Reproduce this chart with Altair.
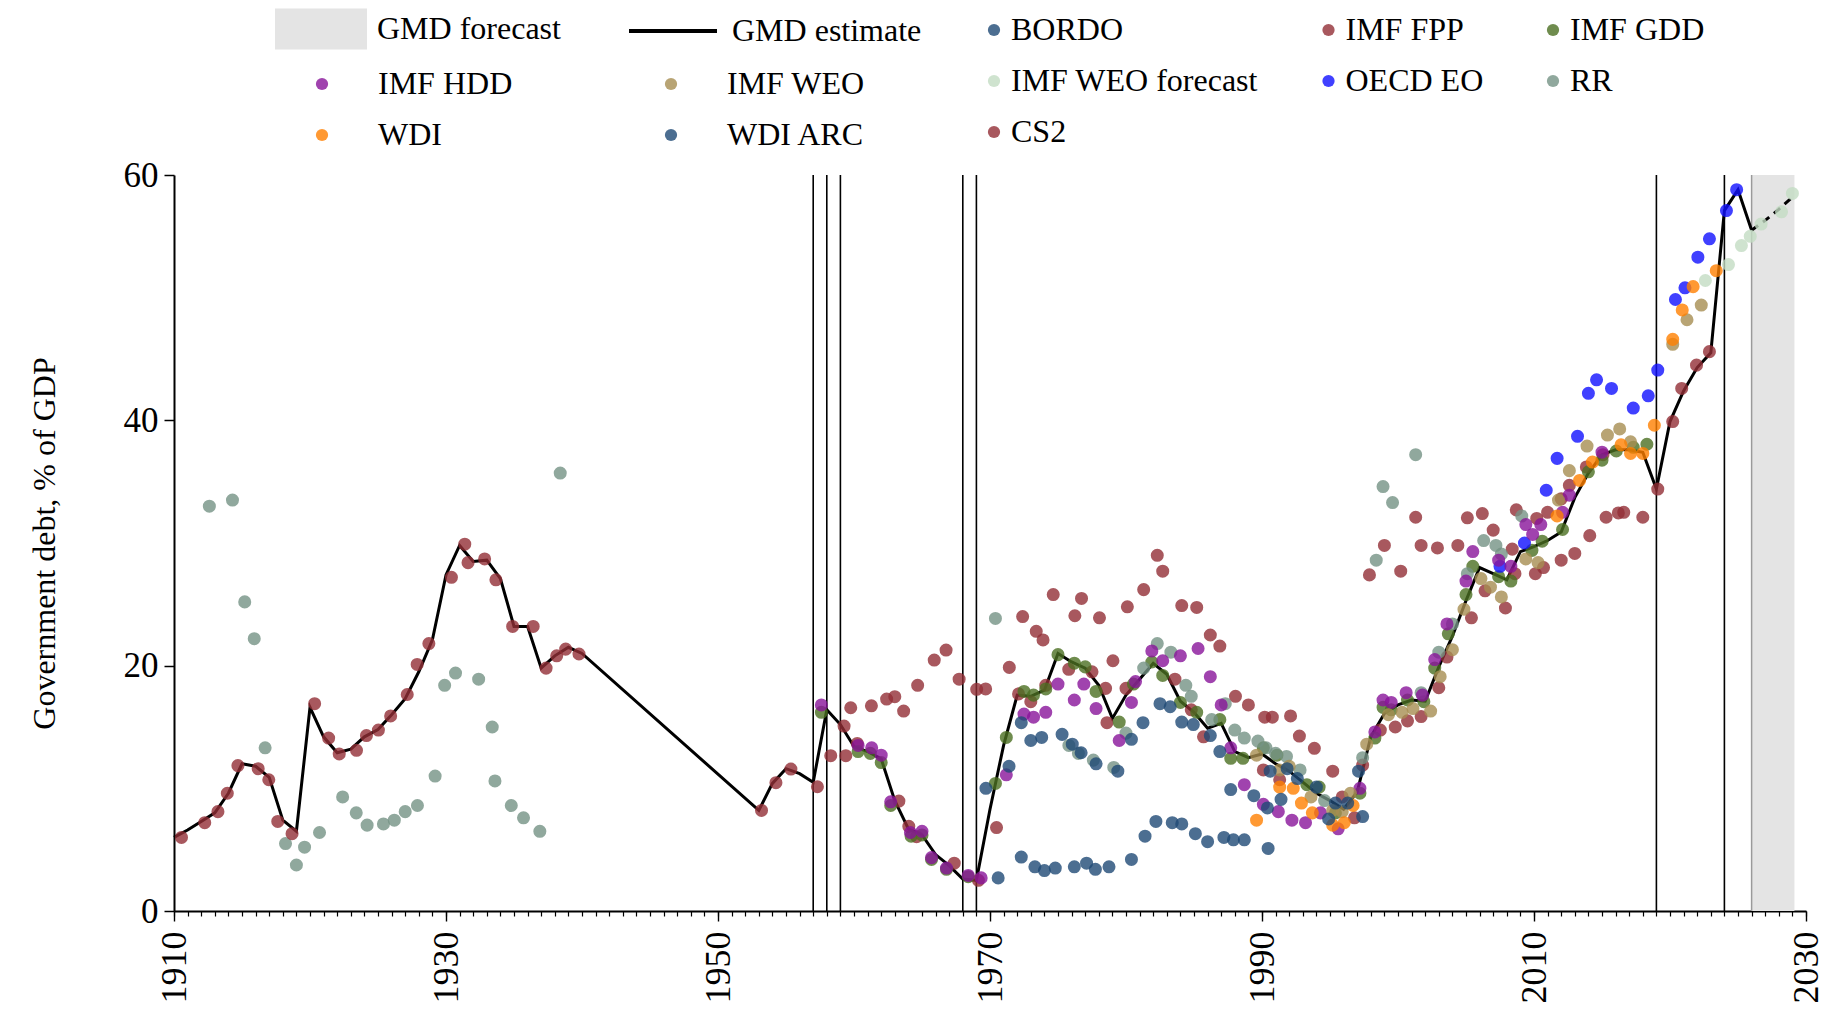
import altair as alt
import pandas as pd

# ---------------- data ----------------
GMD_YEARS = list(range(1910, 1941)) + list(range(1953, 2027))
GMD_VALUES = [
    6.0, 6.6, 7.3, 8.0, 9.6, 12.0, 11.8, 10.9, 7.4, 6.5,           # 1910-1919
    16.6, 14.2, 12.9, 13.2, 14.2, 14.8, 16.0, 17.3, 19.5, 22.1,    # 1920-1929
    27.4, 29.8, 28.5, 28.6, 27.1, 23.2, 23.2, 19.8, 20.8, 21.5,    # 1930-1939
    21.0,                                                           # 1940
    8.2, 10.4, 11.6, 11.2, 10.5, 16.4, 15.2,                        # 1953-1959
    13.4, 13.0, 12.4, 9.0, 6.7, 6.2, 4.6, 3.7, 2.6, 2.5,           # 1960-1969
    8.3, 13.5, 17.6, 17.5, 18.0, 21.0, 20.3, 19.8, 18.4, 15.7,     # 1970-1979
    17.6, 18.9, 20.2, 19.3, 17.1, 16.2, 14.9, 15.3, 13.0, 12.5,    # 1980-1989
    12.8, 12.0, 11.4, 10.5, 9.6, 9.0, 8.3, 9.7, 14.2, 16.1,        # 1990-1999
    16.8, 17.2, 17.1, 19.9, 22.4, 25.3, 28.0, 27.5, 27.0, 29.3,    # 2000-2009
    29.7, 30.2, 30.9, 33.7, 35.7, 37.2, 37.6, 37.6, 37.4, 34.4,    # 2010-2019
    39.9, 42.4, 44.3, 45.5, 57.1, 58.8, 55.5,                      # 2020-2026
]
FC_YEARS = [2026, 2027, 2028, 2029]
FC_VALUES = [55.5, 56.3, 57.2, 58.2]
BREAK_YEARS = [1957, 1958, 1959, 1968, 1969, 2019, 2024]
FORECAST_START = 2026
FORECAST_END = 2029.15
X_MAJOR = list(range(1910, 2031, 20))
X_MINOR = list(range(1910, 2031))
Y_TICKS = [0, 20, 40, 60]

BORDO = [(1970.6, 2.7), (1972.3, 4.4), (1973.3, 3.6), (1974.0, 3.3), (1974.8, 3.5),
         (1976.2, 3.6), (1977.1, 3.9), (1977.75, 3.4), (1978.75, 3.6), (1980.4, 4.2),
         (1981.4, 6.1), (1982.2, 7.3), (1983.4, 7.2), (1984.1, 7.1), (1985.1, 6.3),
         (1986.0, 5.65), (1987.2, 6.0), (1987.9, 5.8), (1988.7, 5.8), (1990.45, 5.1)]

WDI_ARC = [(1969.7, 10.0), (1971.4, 11.8), (1972.3, 15.35), (1973.0, 13.9), (1973.8, 14.15),
           (1975.3, 14.4), (1976.05, 13.6), (1976.7, 12.9), (1977.8, 12.0), (1979.4, 11.4),
           (1980.4, 14.0), (1981.25, 15.35), (1982.5, 16.9), (1983.25, 16.65), (1984.1, 15.4),
           (1984.95, 15.2), (1986.2, 14.3), (1986.9, 13.0), (1987.7, 9.9), (1989.4, 9.4),
           (1990.4, 8.4), (1990.6, 11.4), (1991.4, 9.1), (1991.85, 11.6), (1992.6, 10.8),
           (1994.0, 10.1), (1994.9, 7.5), (1995.4, 8.8), (1996.3, 8.8), (1997.1, 11.4),
           (1997.4, 7.7)]

RR = [(1912.6, 33.0), (1914.3, 33.5), (1915.2, 25.2), (1915.9, 22.2), (1916.7, 13.3),
      (1918.2, 5.5), (1919.0, 3.75), (1919.6, 5.2), (1920.7, 6.4), (1922.4, 9.3),
      (1923.4, 8.0), (1924.2, 7.0), (1925.4, 7.1), (1926.2, 7.4), (1927.0, 8.1),
      (1927.9, 8.6), (1929.2, 11.0), (1929.9, 18.4), (1930.7, 19.4), (1932.4, 18.9),
      (1933.4, 15.0), (1933.6, 10.6), (1934.8, 8.6), (1935.7, 7.6), (1936.9, 6.5),
      (1938.4, 35.7), (1970.4, 23.85), (1975.8, 13.5), (1976.5, 12.85), (1977.6, 12.3),
      (1979.1, 11.7), (1980.0, 14.5), (1981.3, 19.8), (1982.3, 21.8), (1983.3, 21.1),
      (1984.4, 18.4), (1984.8, 17.5), (1986.3, 15.6), (1987.3, 16.9), (1988.0, 14.75),
      (1988.7, 14.1), (1989.7, 13.85), (1990.3, 13.3), (1991.0, 12.85), (1991.8, 12.6),
      (1992.8, 11.5), (1994.6, 9.0), (1997.4, 12.5), (1998.4, 28.6), (1998.9, 34.6),
      (1999.6, 33.3), (2001.3, 37.2), (2001.7, 17.8), (2003.0, 21.1), (2004.0, 23.4),
      (2005.1, 27.5), (2006.3, 30.2), (2007.2, 29.8), (2007.6, 29.1), (2009.1, 32.2)]

IMF_HDD = [(1957.6, 16.8), (1960.3, 13.5), (1961.3, 13.3), (1962.0, 12.7), (1962.7, 8.9),
           (1964.15, 6.4), (1965.0, 6.5), (1965.7, 4.35), (1966.8, 3.5), (1968.4, 2.9),
           (1969.35, 2.7), (1971.2, 11.1), (1972.5, 16.05), (1973.2, 15.8), (1974.1, 16.2),
           (1975.0, 18.5), (1976.2, 17.2), (1976.9, 18.5), (1977.8, 16.5), (1979.5, 13.9),
           (1980.4, 17.0), (1980.7, 18.7), (1981.9, 21.2), (1982.7, 20.4), (1984.0, 20.8),
           (1985.3, 21.4), (1986.2, 19.1), (1987.0, 16.8), (1987.7, 13.3), (1988.7, 10.3),
           (1990.1, 8.7), (1991.2, 8.1), (1992.2, 7.4), (1993.2, 7.2), (1994.3, 8.0),
           (1995.6, 6.7), (1997.2, 10.0), (1998.3, 14.6), (1998.9, 17.2), (1999.5, 17.0),
           (2000.6, 17.8), (2001.8, 17.6), (2002.7, 20.5), (2003.6, 23.4), (2005.0, 26.9),
           (2005.5, 29.3), (2007.4, 28.6), (2008.3, 28.1), (2009.4, 31.5), (2009.9, 30.7),
           (2010.5, 31.5), (2012.1, 32.5), (2012.6, 33.9), (2015.0, 37.4)]

IMF_GDD = [(1957.6, 16.2), (1960.3, 13.0), (1961.2, 12.85), (1962.0, 12.1), (1962.7, 8.6),
           (1964.2, 6.1), (1965.0, 6.2), (1965.7, 4.2), (1966.8, 3.4), (1968.4, 2.8),
           (1970.4, 10.4), (1971.2, 14.15), (1972.5, 17.9), (1973.2, 17.6), (1974.1, 18.1),
           (1975.0, 20.9), (1976.2, 20.2), (1977.0, 19.9), (1977.8, 17.9), (1979.5, 15.4),
           (1980.55, 18.5), (1981.9, 20.3), (1982.7, 19.2), (1984.0, 17.0), (1985.2, 16.2),
           (1986.9, 15.6), (1987.7, 12.45), (1988.6, 12.45), (1990.1, 13.3), (1991.1, 12.7),
           (1993.3, 10.3), (1994.2, 10.1), (1995.4, 8.0), (1997.2, 9.6), (1998.3, 14.1),
           (1998.9, 16.6), (1999.5, 16.4), (2000.7, 17.2), (2001.9, 17.06), (2002.7, 19.8),
           (2003.7, 22.6), (2005.0, 25.8), (2005.5, 28.1), (2007.4, 27.25), (2008.3, 26.9),
           (2009.85, 29.4), (2010.6, 30.15), (2012.1, 31.1), (2014.0, 35.8), (2015.0, 36.75),
           (2016.05, 37.5), (2017.3, 37.8), (2018.3, 38.05)]

IMF_WEO = [(1989.6, 12.7), (1991.3, 11.5), (1992.0, 11.8), (1993.6, 9.3), (1995.2, 8.2),
           (1995.9, 8.1), (1996.5, 9.6), (1997.7, 13.6), (1999.3, 16.0), (2000.3, 16.2),
           (2001.1, 16.5), (2002.4, 16.3), (2003.1, 19.1), (2004.0, 21.3), (2004.85, 24.6),
           (2006.1, 27.1), (2006.8, 26.4), (2007.6, 25.6), (2009.4, 28.7), (2010.3, 28.4),
           (2011.8, 33.5), (2012.6, 35.9), (2013.9, 37.9), (2015.4, 38.8), (2016.3, 39.3),
           (2017.1, 38.25), (2020.2, 46.2), (2021.25, 48.2), (2022.3, 49.4)]

WDI = [(1989.6, 7.4), (1991.3, 10.1), (1992.3, 10.0), (1992.9, 8.8), (1993.7, 8.0),
       (1995.2, 7.0), (1996.05, 7.2), (1996.7, 8.6), (2011.7, 32.2), (2013.35, 35.1),
       (2014.3, 36.6), (2016.4, 38.0), (2017.1, 37.3), (2018.0, 37.3), (2018.85, 39.6),
       (2020.2, 46.6), (2020.9, 49.0), (2021.7, 50.9), (2023.4, 52.2)]

OECD_EO = [(2007.5, 28.1), (2009.3, 30.0), (2010.9, 34.3), (2011.7, 36.9), (2013.2, 38.7),
           (2014.0, 42.2), (2014.6, 43.3), (2015.7, 42.6), (2017.3, 41.0), (2018.4, 42.0),
           (2019.1, 44.1), (2020.4, 49.85), (2021.1, 50.8), (2022.05, 53.3), (2022.9, 54.8),
           (2024.15, 57.1), (2024.9, 58.8)]

IMF_WEO_FC = [(2022.6, 51.4), (2024.3, 52.7), (2025.25, 54.25), (2025.9, 55.0),
              (2026.7, 56.0), (2028.2, 57.0), (2029.0, 58.5)]

CS2 = [(1910.55, 6.0), (1912.26, 7.2), (1913.23, 8.1), (1913.92, 9.6), (1914.7, 11.85),
       (1916.19, 11.6), (1916.97, 10.7), (1917.63, 7.3), (1918.68, 6.3), (1920.34, 16.9),
       (1921.37, 14.1), (1922.15, 12.8), (1923.42, 13.1), (1924.15, 14.3), (1925.03, 14.75),
       (1925.93, 15.9), (1927.15, 17.65), (1927.88, 20.1), (1928.74, 21.8), (1930.4, 27.2),
       (1931.38, 29.9), (1931.62, 28.4), (1932.84, 28.7), (1933.67, 27.0), (1934.9, 23.2),
       (1936.41, 23.2), (1937.36, 19.8), (1938.14, 20.8), (1938.8, 21.35), (1939.78, 20.95),
       (1953.2, 8.2), (1954.26, 10.46), (1955.36, 11.57), (1957.31, 10.13), (1958.29, 12.66),
       (1959.4, 12.66), (1959.27, 15.08), (2019.1, 34.4), (2020.2, 39.9), (2020.86, 42.6),
       (2021.95, 44.5), (2022.9, 45.6)]

IMF_FPP = [(1959.76, 16.57), (1961.28, 16.73), (1962.4, 17.28), (1963.0, 17.47), (1963.65, 16.3),
           (1964.68, 18.4), (1965.9, 20.46), (1966.77, 21.27), (1967.73, 18.9), (1969.02, 18.07),
           (1969.68, 18.1), (1970.48, 6.8), (1960.24, 13.66), (1963.3, 8.96), (1964.03, 6.9),
           (1964.6, 6.06), (1967.37, 3.9), (1969.15, 2.5), (1971.42, 19.86), (1972.4, 24.0),
           (1973.4, 22.8), (1973.9, 22.1), (1974.65, 25.8), (1976.24, 24.07), (1976.73, 25.48),
           (1978.05, 23.9), (1975.79, 19.7), (1977.5, 19.5), (1978.5, 18.15), (1979.04, 20.4),
           (1978.6, 15.35), (1980.1, 24.8), (1981.3, 26.2), (1982.3, 29.0), (1982.7, 27.7),
           (1984.1, 24.9), (1985.2, 24.75), (1986.2, 22.5), (1986.9, 21.6), (1980.0, 18.15),
           (1983.6, 18.9), (1984.8, 16.4), (1985.7, 14.2), (1972.1, 17.7), (1973.0, 17.06),
           (1974.1, 18.4), (1988.05, 17.5), (1989.0, 16.8), (1990.2, 15.8), (1990.76, 15.8),
           (1992.1, 15.9), (1992.75, 14.26), (1993.85, 13.26), (1995.2, 11.4), (1990.1, 11.5),
           (1991.3, 10.7), (1995.9, 9.3), (1996.8, 7.6), (1997.4, 11.9), (1997.9, 27.4),
           (1999.0, 29.8), (2000.2, 27.7), (2001.3, 32.1), (2001.7, 29.8), (2002.9, 29.6),
           (2004.4, 29.8), (2005.1, 32.05), (2006.2, 32.4), (2007.0, 31.05), (2008.7, 32.7),
           (2008.4, 29.5), (2010.2, 32.0), (2011.0, 32.5), (2012.6, 34.7), (2014.1, 30.6),
           (2015.3, 32.1), (2016.2, 32.45), (2016.6, 32.5), (2018.0, 32.1), (2013.0, 29.15),
           (2012.0, 28.6), (2010.7, 28.0), (2010.1, 27.5), (2008.6, 27.5), (2007.9, 24.7),
           (2006.4, 26.1), (2005.4, 23.9), (2003.6, 20.7), (2003.0, 18.2), (2001.7, 15.85),
           (2000.7, 15.5), (1999.8, 15.0), (1998.7, 14.75), (2012.0, 33.6), (2013.85, 36.2),
           (2015.07, 37.2)]

# ---------------- styling ----------------
SERIES_A = ["BORDO", "IMF FPP", "IMF GDD", "IMF WEO forecast", "OECD EO", "RR", "CS2"]
SERIES_B = ["IMF HDD", "IMF WEO", "WDI", "WDI ARC"]
COLORS = {
    "BORDO": "#1f4a75", "IMF FPP": "#922e36", "IMF GDD": "#4b6f22",
    "IMF HDD": "#88149a", "IMF WEO": "#a68d51", "IMF WEO forecast": "#c3dcc3",
    "OECD EO": "#1010ff", "RR": "#749284", "WDI": "#ff8000",
    "WDI ARC": "#1f4a75", "CS2": "#922e36",
}
DATA = {
    "BORDO": BORDO, "IMF FPP": IMF_FPP, "IMF GDD": IMF_GDD, "IMF HDD": IMF_HDD,
    "IMF WEO": IMF_WEO, "IMF WEO forecast": IMF_WEO_FC, "OECD EO": OECD_EO,
    "RR": RR, "WDI": WDI, "WDI ARC": WDI_ARC, "CS2": CS2,
}
FONT = "Liberation Serif"
W, H = 1632, 736
PT_SIZE = 170


def points_frame(names):
    rows = []
    for n in names:
        for yr, v in DATA[n]:
            rows.append({"series": n, "year": yr, "value": v})
    return pd.DataFrame(rows)


xscale = alt.Scale(domain=[1910, 2030], nice=False, zero=False)
yscale = alt.Scale(domain=[0, 60], nice=False, zero=True)

legend_common = dict(orient="none", title=None, labelFont=FONT, labelFontSize=32,
                     labelColor="black", labelLimit=500, direction="horizontal")

gmd_df = pd.DataFrame({"year": GMD_YEARS, "value": GMD_VALUES, "series": "GMD estimate"})
fc_df = pd.DataFrame({"year": FC_YEARS, "value": FC_VALUES})
band_df = pd.DataFrame({"series": ["GMD forecast"], "x0": [FORECAST_START], "x1": [FORECAST_END]})
breaks_df = pd.DataFrame({"year": BREAK_YEARS})

x_major_axis = alt.Axis(
    values=X_MAJOR, format="d", labelAngle=-90,
    labelFont=FONT, labelFontSize=36, labelColor="black",
    labelPadding=10, labelFlush=False, labelOverlap=False,
    tickSize=10, tickWidth=1.4, tickColor="black",
    domainColor="black", domainWidth=2, grid=False, title=None, orient="bottom",
)
x_minor_axis = alt.Axis(
    values=X_MINOR, labels=False, ticks=True, tickSize=5, tickWidth=1.2,
    tickColor="black", domain=False, grid=False, title=None, orient="bottom",
)
y_axis = alt.Axis(
    values=Y_TICKS, title="Government debt, % of GDP",
    titleFont=FONT, titleFontSize=32, titleFontWeight="normal", titleColor="black",
    titlePadding=62,
    labelFont=FONT, labelFontSize=35, labelColor="black", labelPadding=6,
    tickSize=10, tickWidth=1.5, tickColor="black", domainColor="black", domainWidth=2,
    grid=False,
)

band = alt.Chart(band_df).mark_rect(opacity=1).encode(
    x=alt.X("x0:Q", scale=xscale, axis=None),
    x2="x1:Q",
    color=alt.Color("series:N",
                    scale=alt.Scale(domain=["GMD forecast"], range=["#e4e4e4"]),
                    legend=alt.Legend(legendX=131, legendY=-162,
                                      symbolType="M-9.2,-4.1H9.2V4.1H-9.2Z",
                                      symbolSize=100, labelOffset=40, **legend_common)),
)

band_edge = alt.Chart(band_df).mark_rule(color="#9a9a9a", strokeWidth=1.5).encode(
    x=alt.X("x0:Q", scale=xscale, axis=None),
)

breaks = alt.Chart(breaks_df).mark_rule(color="black", strokeWidth=1.6).encode(
    x=alt.X("year:Q", scale=xscale, axis=x_minor_axis),
)

line = alt.Chart(gmd_df).mark_line(strokeWidth=3).encode(
    x=alt.X("year:Q", scale=xscale, axis=x_major_axis),
    y=alt.Y("value:Q", scale=yscale, axis=y_axis),
    color=alt.Color("series:N",
                    scale=alt.Scale(domain=["GMD estimate"], range=["black"]),
                    legend=alt.Legend(legendX=483, legendY=-160, symbolType="M-8.8,0H8.8",
                                      symbolSize=100, symbolStrokeWidth=4, labelOffset=43,
                                      **legend_common)),
)

fc_line = alt.Chart(fc_df).mark_line(strokeWidth=3, color="black", strokeDash=[8, 6]).encode(
    x=alt.X("year:Q", scale=xscale, axis=None),
    y=alt.Y("value:Q", scale=yscale),
)

pts_a = alt.Chart(points_frame(SERIES_A)).mark_circle(size=PT_SIZE, opacity=0.8).encode(
    x=alt.X("year:Q", scale=xscale, axis=None),
    y=alt.Y("value:Q", scale=yscale),
    color=alt.Color("series:N",
                    scale=alt.Scale(domain=SERIES_A, range=[COLORS[s] for s in SERIES_A]),
                    legend=alt.Legend(legendX=804, legendY=-161, columns=3, labelOffset=1,
                                      columnPadding=53.5, rowPadding=19, symbolSize=150,
                                      symbolOpacity=0.8, **legend_common)),
)

pts_b = alt.Chart(points_frame(SERIES_B)).mark_circle(size=PT_SIZE, opacity=0.8).encode(
    x=alt.X("year:Q", scale=xscale, axis=None),
    y=alt.Y("value:Q", scale=yscale),
    color=alt.Color("series:N",
                    scale=alt.Scale(domain=SERIES_B, range=[COLORS[s] for s in SERIES_B]),
                    legend=alt.Legend(legendX=132, legendY=-107, columns=2, labelOffset=40,
                                      columnPadding=142, rowPadding=19, symbolSize=150,
                                      symbolOpacity=0.8, **legend_common)),
)

chart = alt.layer(band, band_edge, breaks, line, fc_line, pts_a, pts_b).resolve_scale(
    color="independent"
).resolve_axis(x="independent").properties(
    width=W, height=H,
    padding={"left": 166, "top": 167, "right": 23, "bottom": 96},
    autosize=alt.AutoSizeParams(type="none"),
).configure(font=FONT, background="white").configure_view(stroke=None, strokeWidth=0)

chart.save("out.html", embed_options={"renderer": "svg", "actions": False})
